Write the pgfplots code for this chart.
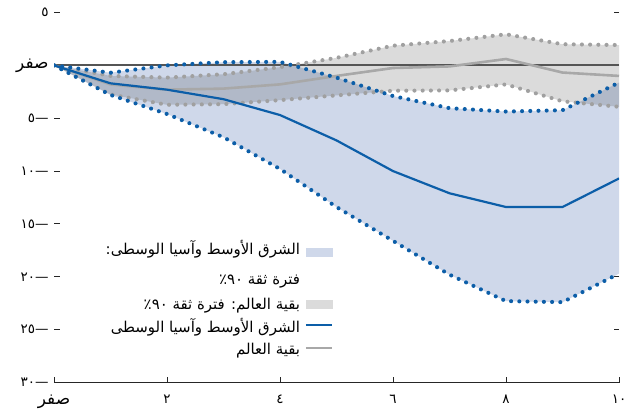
\documentclass[border=0pt]{standalone}
\usepackage{fontspec}
\usepackage{pgfplots}
\usepgfplotslibrary{fillbetween}
\usepackage{pgfplotstable}
\pgfplotsset{compat=1.18}
\TeXXeTstate=1
\setmainfont{DejaVu Sans}
\newfontfamily\arabicfont[Script=Arabic]{DejaVu Sans}
\definecolor{mecablue}{RGB}{12,94,168}
\definecolor{mecafill}{RGB}{207,216,234}
\definecolor{rowgray}{RGB}{168,168,168}
\definecolor{rowdot}{RGB}{160,160,160}
\definecolor{zeroline}{RGB}{85,85,85}
\newcommand{\AR}[1]{{\arabicfont\beginR #1\endR}}
\newcommand{\ZERO}{{\arabicfont\fontsize{17}{19}\selectfont\beginR صفر\endR}}
\newcommand{\NEG}[1]{{\arabicfont #1}{\rmfamily —}}

\pgfplotstableread{
x  m     mu     ml     r      ru     rl
0  0     0      0      0      0      0
1  -1.7  -0.7   -2.8   -1.8   -1.0   -2.75
2  -2.3  0.0    -4.6   -2.3   -1.16  -3.73
3  -3.2  0.3    -6.8   -2.2   -0.84  -3.67
4  -4.7  0.33   -9.8   -1.8   -0.17  -3.29
5  -7.1  -1.16  -13.4  -1.0   0.71   -2.84
6  -10.0 -2.9   -16.6  -0.25  1.86   -2.4
7  -12.1 -4.05  -19.8  -0.1   2.3    -2.37
8  -13.4 -4.37  -22.3  0.6    2.94   -1.8
9  -13.4 -4.24  -22.4  -0.68  2.0    -3.4
10 -10.7 -1.63  -19.7  -1.0   1.92   -3.92
}\data

\pgfplotsset{
  dotline/.style={line width=4.1bp, line cap=round, dash pattern=on 0pt off 8.2bp},
}

\begin{document}
\begin{tikzpicture}
\begin{axis}[
  scale only axis, width=565bp, height=370bp,
  xmin=0, xmax=10, ymin=-30, ymax=5,
  axis x line*=bottom,
  y axis line style={draw=none},
  x axis line style={line width=1.1bp, black!85},
  tick align=inside,
  major tick length=5.5bp,
  tick style={line width=1bp, black!85},
  xtick={0,2,4,6,8,10},
  xticklabels={\ZERO,{\arabicfont ٢},{\arabicfont ٤},{\arabicfont ٦},{\arabicfont ٨},{\arabicfont ١٠}},
  ytick={5,0,-5,-10,-15,-20,-25,-30},
  yticklabels={{\arabicfont ٥},\ZERO,\NEG{٥},\NEG{١٠},\NEG{١٥},\NEG{٢٠},\NEG{٢٥},\NEG{٣٠}},
  ytick pos=both,
  yticklabel pos=left,
  ticklabel style={font=\arabicfont\fontsize{13.5}{15}\selectfont},
  yticklabel style={xshift=-2bp},
  xticklabel style={yshift=-9bp},
  legend style={draw=none, fill=none, inner sep=0pt, at={(0.494,0.377)}, anchor=north east,
    font=\arabicfont\fontsize{15}{17}\selectfont, row sep=7.5bp,
    nodes={inner sep=0pt, text height=11bp, text depth=4bp},
    /tikz/every odd column/.append style={column sep=4.5bp}},
  legend cell align=right,
  legend plot pos=right,
]
% invisible boundary paths
\addplot[name path=mu, draw=none, forget plot] table[x=x,y=mu]{\data};
\addplot[name path=ml, draw=none, forget plot] table[x=x,y=ml]{\data};
\addplot[name path=ru, draw=none, forget plot] table[x=x,y=ru]{\data};
\addplot[name path=rl, draw=none, forget plot] table[x=x,y=rl]{\data};
\addplot[fill=mecafill, draw=none, forget plot] fill between[of=mu and ml];
\addplot[fill=black, fill opacity=0.14, draw=none, forget plot] fill between[of=ru and rl];
% zero line
\addplot[zeroline, line width=1.8bp, forget plot] coordinates {(0,0) (10,0)};
% rest of world
\addplot[rowgray, line width=2.6bp, forget plot] table[x=x,y=r]{\data};
\addplot[rowdot, dotline, forget plot] table[x=x,y=ru]{\data};
\addplot[rowdot, dotline, forget plot] table[x=x,y=rl]{\data};
% MECA
\addplot[mecablue, line width=2.2bp, forget plot] table[x=x,y=m]{\data};
\addplot[mecablue, dotline, forget plot] table[x=x,y=mu]{\data};
\addplot[mecablue, dotline, forget plot] table[x=x,y=ml]{\data};
% legend
\addlegendimage{legend image code/.code={\fill[mecafill] (0bp,-2bp) rectangle (26bp,6bp);}}
\addlegendentry[text depth=11.5bp]{\AR{الشرق الأوسط وآسيا الوسطى:}}
\addlegendimage{empty legend}
\addlegendentry[text depth=7bp]{\AR{فترة ثقة ٩٠٪}}
\addlegendimage{legend image code/.code={\fill[black!14] (0bp,-2bp) rectangle (26bp,6bp);}}
\addlegendentry{\AR{بقية العالم: فترة ثقة ٩٠٪}}
\addlegendimage{legend image code/.code={\draw[mecablue, line width=2.3bp] (0bp,3.5bp) -- (26bp,3.5bp);}}
\addlegendentry{\AR{الشرق الأوسط وآسيا الوسطى}}
\addlegendimage{legend image code/.code={\draw[rowgray, line width=2.3bp] (0bp,3.5bp) -- (26bp,3.5bp);}}
\addlegendentry{\AR{بقية العالم}}
\end{axis}
\pgfresetboundingbox
\path ([shift={(-54bp,-34.5bp)}]current axis.south west) rectangle ([shift={(17bp,12.5bp)}]current axis.north east);
\end{tikzpicture}
\end{document}
